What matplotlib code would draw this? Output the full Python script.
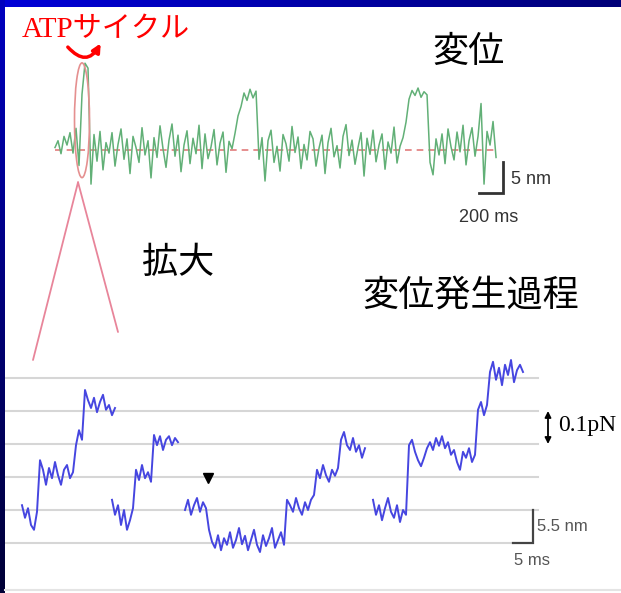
import numpy as np
import matplotlib.pyplot as plt
from matplotlib.colors import LinearSegmentedColormap
from matplotlib.patches import Ellipse, FancyArrowPatch, ConnectionPatch

plt.rcParams['font.family'] = ['Noto Sans CJK JP', 'DejaVu Sans']

# --- upper trace: displacement (nm), one sample every 25 ms ---
top_dt = 25.0
top_nm = [0.4, 1.5, -0.6, 2.2, 0.8, 2.8, -0.5,
          3.5, -2.5,
          9.0, 14.0, 13.2,
          -5.5,
          2.5, -1.8, 3.0, -3.2, 1.2, -0.5, 2.8, -2.6, 0.9, 3.4,
          -1.5, 1.8, -3.8, 2.2, 0.4, -2.0, 3.6, -0.8, 1.5, -4.5,
          2.0, -1.2, 3.9, 0.2, -2.8, 1.6, 4.2, -1.0, 2.4, -3.5,
          0.8, 3.1, -2.2, 1.9, -0.6, 4.0, -3.0, 2.6, -1.4, 0.5,
          3.3, -2.4, 1.1, 2.9, -3.6, 1.4, 0.2, 2.7,
          5.5, 7.0, 9.2, 8.0, 9.8, 8.4, 9.5,
          -1.5,
          2.0, -5.0, 1.5, 3.2, -2.0, 0.6, -3.4, 2.5, 1.0, -1.8,
          3.8, -0.4, 2.1, -3.0, 0.9, -1.6, 3.0, 1.8, -2.6, 0.3,
          2.4, -3.8, 1.2, 3.5, -1.1, 0.7, -2.9, 2.2, 4.1, -0.9,
          1.6, -2.3, 0.4, 2.8, -4.2, 1.9, -0.7, 3.2, -1.9, 0.8,
          2.6, -3.1, 1.3, -0.5, 3.7, -2.1, 0.6, 2.0, 4.5,
          8.2, 9.6, 8.8, 10.0, 8.5, 9.4, 8.9,
          -2.0,
          -4.0, 1.8, -0.8, 2.6, -2.2, 3.4, 0.5, -1.6, 2.9, -0.3,
          4.0, -2.4, 1.5, 3.6, -1.0, 2.2, 7.5, -5.5, 3.0, 0.8,
          4.6, -1.2]

# --- lower trace: stepping (nm), one sample every 0.75 ms, four records ---
bot_dt = 0.75
seg1_t0 = 0.0
seg1_nm = [6.3, 4.2, 5.8, 3.0, 2.2, 5.2,
           13.8,
           12.2, 9.7, 12.5, 10.8, 13.5, 11.3, 9.7, 12.2, 13.0, 10.8, 11.8,
           16.3, 18.8, 17.2,
           25.5, 23.8, 22.5, 24.2, 21.8, 23.5, 24.7, 22.2, 23.0, 21.3, 22.5]
seg2_t0 = 22.5
seg2_nm = [7.2, 4.7, 6.3, 3.0, 5.5, 2.2, 3.8, 5.8,
           12.2, 10.5, 13.0, 10.8, 11.8, 10.2,
           18.0, 16.3, 17.8, 15.5, 17.2, 17.8, 16.3, 17.5, 16.8]
seg3_t0 = 40.75
seg3_nm = [5.5, 7.2, 4.7, 6.3, 7.5, 5.2, 6.8, 5.8,
           2.2, 0.2, -0.8, 1.3, -1.2, 0.8, -0.3, 1.8, -0.8, 0.5,
           2.5, -0.2, 1.2, -1.2, 0.5, 2.2, -0.3, -1.5, 1.3, -0.5,
           0.8, 2.5, -0.8, 0.5, 1.8, -0.3,
           7.2, 6.3, 5.2, 7.5, 5.8, 4.7, 6.8, 5.5, 7.2, 8.0,
           12.2, 10.8, 13.0, 11.3, 10.2, 12.2, 11.2, 12.5,
           17.2, 18.5, 16.3, 15.5, 17.5, 15.2, 16.3, 14.2, 15.8]
seg4_t0 = 87.75
seg4_nm = [7.2, 4.7, 6.3, 3.8, 5.8, 7.5, 5.2, 4.2, 6.3, 3.5, 5.5, 4.7,
           16.3, 17.2, 15.2, 13.8, 12.8, 14.2, 15.8, 16.8, 15.5, 17.5,
           16.2, 17.8, 15.8, 16.8, 14.7, 15.5, 13.5, 12.2, 15.2, 14.2,
           15.8, 13.5, 14.7,
           22.2, 23.5, 21.3, 23.0,
           28.5, 30.2, 27.2, 29.2, 26.3, 29.7, 28.0, 30.5, 26.8, 28.8,
           29.7, 28.5]
step_nm = 5.5
grid_levels = [0.0, 5.5, 11.0, 16.5, 22.0, 27.5]
marker_t, marker_nm = 46.5, 10.8

W, H = 621, 593
fig = plt.figure(figsize=(W / 100, H / 100), dpi=100)


def px_axes(x0, y0, x1, y1, z):
    ax = fig.add_axes([x0 / W, 1 - y1 / H, (x1 - x0) / W, (y1 - y0) / H])
    ax.set_zorder(z)
    ax.patch.set_visible(False)
    ax.axis('off')
    return ax


# background layer in pixel units: frame and labels
bg = px_axes(0, 0, W, H, 0)
top_cmap = LinearSegmentedColormap.from_list('topbar', ['#0000d8', '#000078'])
left_cmap = LinearSegmentedColormap.from_list('leftbar', ['#0000c0', '#000036'])
bg.imshow(np.linspace(0, 1, 256)[None, :], cmap=top_cmap, extent=(0, W, 7, 0), aspect='auto')
bg.imshow(np.linspace(0, 1, 256)[:, None], cmap=left_cmap, extent=(0, 5, H, 0), aspect='auto')
bg.plot([5, W], [590, 590], color='#e4e4e4', lw=1.5)
bg.set_xlim(0, W)
bg.set_ylim(H, 0)

bg.text(22, 37, 'ATPサイクル', color='#ff0000', fontsize=21,
        family=['Liberation Serif', 'Noto Sans CJK JP'], va='baseline')
bg.add_patch(FancyArrowPatch((66, 45), (102, 41), connectionstyle='arc3,rad=0.75',
                             arrowstyle='-|>', mutation_scale=12, color='#ff0000', lw=2.5))
bg.text(469, 52, '変位', fontsize=26, ha='center', va='center')
bg.text(178, 263, '拡大', fontsize=26, ha='center', va='center')
bg.text(471, 296, '変位発生過程', fontsize=26, ha='center', va='center')
bg.text(558, 426, '0.1pN', fontsize=17, family=['Liberation Serif'], va='center')

narrow = ['Liberation Sans Narrow', 'Liberation Sans', 'DejaVu Sans']

# upper trace
ax_top = px_axes(40, 50, 560, 230, 1)
ax_top.set_xlim(-125, 4208)
ax_top.set_ylim(-12.9, 16.13)
top_t = np.arange(len(top_nm)) * top_dt
ax_top.plot([top_t[0], top_t[-1]], [0, 0], color='#e27c7c', ls=(0, (4, 3)), lw=1.2, zorder=1)
ax_top.plot(top_t, top_nm, color='#62b077', lw=1.1, zorder=2)
ax_top.add_patch(Ellipse((225, 4.8), width=125, height=18.5, fill=False,
                         ec='#e59090', lw=1.2, zorder=3))
ax_top.plot([3533, 3733, 3733], [-6.94, -6.94, -1.94], color='#333333', lw=2,
            solid_joinstyle='miter')
ax_top.text(3800, -4.8, '5 nm', fontsize=13, color='#333333', family=narrow, va='center')
ax_top.text(3616, -10.9, '200 ms', fontsize=13, color='#333333', family=narrow,
            ha='center', va='center')

# zoom lines from the ellipse down to the stepping record
for end in [(33, 360), (118, 332)]:
    con = ConnectionPatch(xyA=(192, -5.2), coordsA=ax_top.transData, xyB=end,
                          coordsB=bg.transData, color='#e8859a', lw=1.3)
    fig.add_artist(con)

# lower trace
ax_bot = px_axes(5, 355, 615, 590, 1)
ax_bot.set_xlim(-4.25, 148.25)
ax_bot.set_ylim(-7.83, 31.33)
for lv in grid_levels:
    t_end = 122.75 if lv == 0 else 129.0
    ax_bot.plot([-4.25, t_end], [lv, lv], color='#d6d6d6', lw=1.5, zorder=1)
for t0, seg in [(seg1_t0, seg1_nm), (seg2_t0, seg2_nm), (seg3_t0, seg3_nm), (seg4_t0, seg4_nm)]:
    t = t0 + np.arange(len(seg)) * bot_dt
    ax_bot.plot(t, seg, color='#4646e0', lw=1.4, zorder=2)
ax_bot.plot(marker_t, marker_nm, marker='v', color='black', ms=7, zorder=3)
ax_bot.plot([122.75, 127.75, 127.75], [0, 0, step_nm], color='#444444', lw=1.6,
            solid_joinstyle='miter')
ax_bot.text(128.8, 2.7, '5.5 nm', fontsize=12, color='#555555', family=narrow, va='center')
ax_bot.text(127.5, -2.9, '5 ms', fontsize=12, color='#555555', family=narrow,
            ha='center', va='center')
ax_bot.annotate('', xy=(131.5, grid_levels[3]), xytext=(131.5, grid_levels[4]),
                arrowprops=dict(arrowstyle='<|-|>', color='black', lw=1.3,
                                mutation_scale=9, shrinkA=0, shrinkB=0))

fig.savefig('out.png', dpi=100)
